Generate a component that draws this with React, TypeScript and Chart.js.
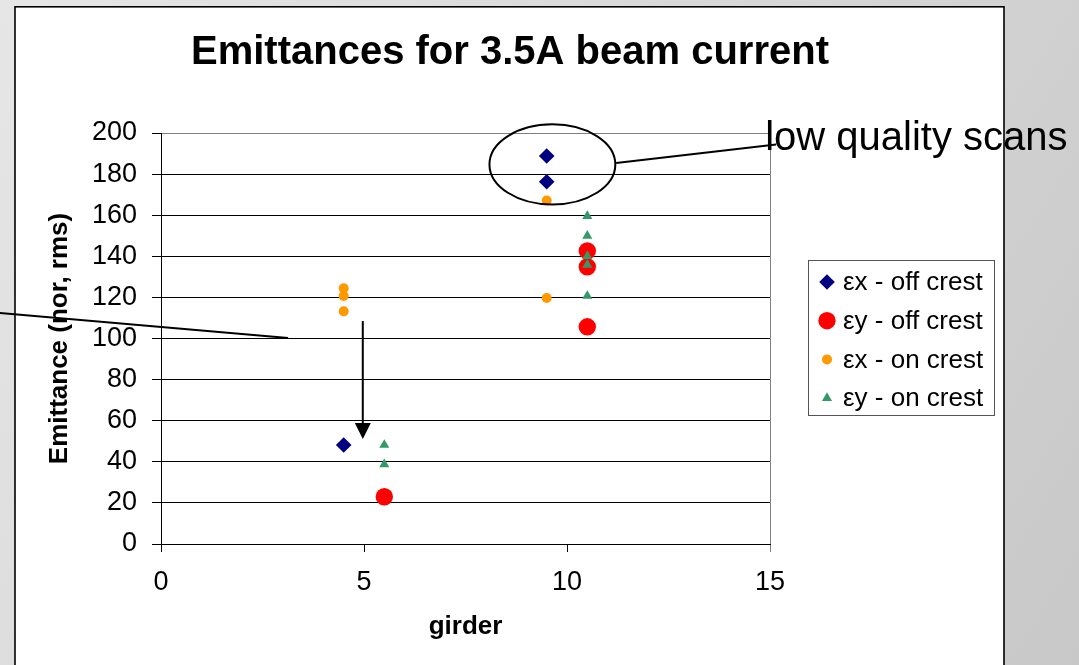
import React, { useEffect, useRef } from 'react';
import { Chart, registerables } from 'chart.js';
import { drawPoint } from 'chart.js/helpers';

Chart.register(...registerables);

const FONT = '"Liberation Sans", Arial, sans-serif';

const TITLE = 'Emittances for 3.5A beam current';
const X_TITLE = 'girder';
const Y_TITLE = 'Emittance (nor, rms)';
const SERIES_LABELS = ['εx - off crest', 'εy - off crest', 'εx - on crest', 'εy - on crest'];

const exOffX = [4.5, 9.5, 9.5];
const exOffY = [48.2, 188.8, 176.3];
const eyOffX = [5.5, 10.5, 10.5, 10.5];
const eyOffY = [23.0, 142.6, 134.9, 105.7];
const exOnX = [4.5, 4.5, 4.5, 9.5, 9.5];
const exOnY = [124.4, 120.7, 113.2, 167.1, 119.7];
const eyOnX = [5.5, 5.5, 10.5, 10.5, 10.5, 10.5, 10.5];
const eyOnY = [48.2, 38.8, 159.6, 150.0, 140.1, 135.9, 120.7];

const X_TICKS = [0, 5, 10, 15];
const Y_TICKS = [0, 20, 40, 60, 80, 100, 120, 140, 160, 180, 200];

const CALLOUT_TEXT = 'low quality scans';
// annotation anchors in data units
const ELLIPSE = { cx: 9.64, cy: 184.7, rx: 1.55, ry: 19.5 };
const CALLOUT_LINE = [[11.21, 185.4], [15.15, 194.4]];
const CALLOUT_TEXT_POS = [14.88, 191.7];
const LEFT_LINE = [[-3.97, 112.4], [3.13, 100.2]];
const ARROW = { x: 4.97, from: 108.5, to: 51.1 };

const pts = (xs: number[], ys: number[]) => xs.map((x, i) => ({ x, y: ys[i] }));

const decorPlugin = {
  id: 'decor',
  beforeDraw(chart: any) {
    const { ctx, width, height } = chart;
    ctx.save();
    const g = ctx.createLinearGradient(0, 0, width, height);
    g.addColorStop(0, '#e6e6e6');
    g.addColorStop(1, '#c8c8c8');
    ctx.fillStyle = g;
    ctx.fillRect(0, 0, width, height);
    ctx.fillStyle = '#ffffff';
    ctx.fillRect(15, 7, 989, height);
    ctx.strokeStyle = '#000';
    ctx.lineWidth = 1.6;
    ctx.strokeRect(15, 6.8, 989, height + 20);
    ctx.restore();
  },
  afterDraw(chart: any) {
    const { ctx } = chart;
    const xs = chart.scales.x;
    const ys = chart.scales.y;
    const px = (v: number) => xs.getPixelForValue(v);
    const py = (v: number) => ys.getPixelForValue(v);
    ctx.save();

    // title
    ctx.fillStyle = '#000';
    ctx.font = `bold 40px ${FONT}`;
    ctx.textAlign = 'center';
    ctx.textBaseline = 'alphabetic';
    ctx.fillText(TITLE, 510, 64);

    // legend
    const lx = 808, ly = 260, lw = 186, lh = 155;
    ctx.fillStyle = '#fff';
    ctx.fillRect(lx, ly, lw, lh);
    ctx.strokeStyle = '#555';
    ctx.lineWidth = 1;
    ctx.strokeRect(lx + 0.5, ly + 0.5, lw, lh);
    ctx.font = `26px ${FONT}`;
    ctx.textAlign = 'left';
    ctx.textBaseline = 'middle';
    chart.data.datasets.forEach((ds: any, i: number) => {
      const yy = 282 + i * 38.7;
      ctx.fillStyle = ds.backgroundColor;
      ctx.strokeStyle = ds.borderColor;
      drawPoint(ctx, { pointStyle: ds.pointStyle, radius: ds.pointRadius, borderWidth: 0, rotation: 0 }, 827, yy);
      ctx.fillStyle = '#000';
      ctx.fillText(SERIES_LABELS[i], 843, yy + 1);
    });

    // annotations
    ctx.strokeStyle = '#000';
    ctx.lineWidth = 2;
    const ecx = px(ELLIPSE.cx), ecy = py(ELLIPSE.cy);
    const erx = px(ELLIPSE.cx + ELLIPSE.rx) - ecx;
    const ery = ecy - py(ELLIPSE.cy + ELLIPSE.ry);
    ctx.beginPath();
    ctx.ellipse(ecx, ecy, erx, ery, 0, 0, Math.PI * 2);
    ctx.stroke();

    ctx.beginPath();
    ctx.moveTo(px(CALLOUT_LINE[0][0]), py(CALLOUT_LINE[0][1]));
    ctx.lineTo(px(CALLOUT_LINE[1][0]), py(CALLOUT_LINE[1][1]));
    ctx.stroke();

    ctx.beginPath();
    ctx.moveTo(px(LEFT_LINE[0][0]), py(LEFT_LINE[0][1]));
    ctx.lineTo(px(LEFT_LINE[1][0]), py(LEFT_LINE[1][1]));
    ctx.stroke();

    // arrow
    const ax = px(ARROW.x);
    const aTop = py(ARROW.from), aTip = py(ARROW.to);
    ctx.beginPath();
    ctx.moveTo(ax, aTop);
    ctx.lineTo(ax, aTip - 12);
    ctx.stroke();
    ctx.fillStyle = '#000';
    ctx.beginPath();
    ctx.moveTo(ax, aTip);
    ctx.lineTo(ax - 8, aTip - 16);
    ctx.lineTo(ax + 8, aTip - 16);
    ctx.closePath();
    ctx.fill();

    ctx.fillStyle = '#000';
    ctx.font = `40px ${FONT}`;
    ctx.textAlign = 'left';
    ctx.textBaseline = 'alphabetic';
    ctx.fillText(CALLOUT_TEXT, px(CALLOUT_TEXT_POS[0]), py(CALLOUT_TEXT_POS[1]));

    ctx.restore();
  },
};

export default function App() {
  const ref = useRef<HTMLCanvasElement>(null);
  useEffect(() => {
    const chart = new Chart(ref.current as HTMLCanvasElement, {
      type: 'scatter',
      data: {
        datasets: [
          { label: SERIES_LABELS[0], data: pts(exOffX, exOffY), pointStyle: 'rectRot', pointRadius: 7.8, backgroundColor: '#000080', borderColor: '#000080', borderWidth: 0, order: 3 },
          { label: SERIES_LABELS[1], data: pts(eyOffX, eyOffY), pointStyle: 'circle', pointRadius: 8.7, backgroundColor: '#ff0000', borderColor: '#ff0000', borderWidth: 0, order: 2 },
          { label: SERIES_LABELS[2], data: pts(exOnX, exOnY), pointStyle: 'circle', pointRadius: 5, backgroundColor: '#ff9900', borderColor: '#ff9900', borderWidth: 0, order: 1 },
          { label: SERIES_LABELS[3], data: pts(eyOnX, eyOnY), pointStyle: 'triangle', pointRadius: 5.8, backgroundColor: '#339966', borderColor: '#339966', borderWidth: 0, order: 0 },
        ] as any,
      },
      options: {
        animation: false,
        responsive: false,
        devicePixelRatio: 1,
        events: [],
        layout: { padding: { top: 133, left: 0, right: 309, bottom: 0 } },
        plugins: { legend: { display: false }, tooltip: { enabled: false }, title: { display: false } },
        scales: {
          x: {
            type: 'linear',
            min: 0,
            max: 15,
            afterBuildTicks: (s: any) => { s.ticks = X_TICKS.map((v) => ({ value: v })); },
            afterFit: (s: any) => { s.height = 121; },
            ticks: { color: '#000', font: { family: FONT, size: 27 }, padding: 14 },
            grid: {
              color: (c: any) => (c.tick && c.tick.value === 15 ? '#808080' : 'rgba(0,0,0,0)'),
              tickColor: (c: any) => (c.tick && c.tick.value === 15 ? '#808080' : '#000'),
              tickLength: 8,
              lineWidth: 1,
            },
            border: { color: '#000', width: 1 },
            title: { display: true, text: X_TITLE, color: '#000', font: { family: FONT, size: 26, weight: 'bold' }, padding: { top: 0, bottom: 23 } },
          },
          y: {
            type: 'linear',
            min: 0,
            max: 200,
            afterBuildTicks: (s: any) => { s.ticks = Y_TICKS.map((v) => ({ value: v })); },
            afterFit: (s: any) => { s.width = 161; },
            ticks: { color: '#000', font: { family: FONT, size: 27 }, padding: 15 },
            grid: {
              color: (c: any) => (c.tick && c.tick.value === 200 ? '#808080' : '#000'),
              tickColor: '#000',
              tickLength: 9,
              lineWidth: 1,
            },
            border: { color: '#000', width: 1 },
            title: { display: true, text: Y_TITLE, color: '#000', font: { family: FONT, size: 26, weight: 'bold' }, padding: { top: 44, bottom: 0 } },
          },
        },
      } as any,
      plugins: [decorPlugin],
    });
    return () => chart.destroy();
  }, []);
  return (
    <div style={{ position: 'fixed', left: 0, top: 0, width: 1079, height: 665 }}>
      <canvas ref={ref} width={1079} height={665} style={{ display: 'block' }} />
    </div>
  );
}
